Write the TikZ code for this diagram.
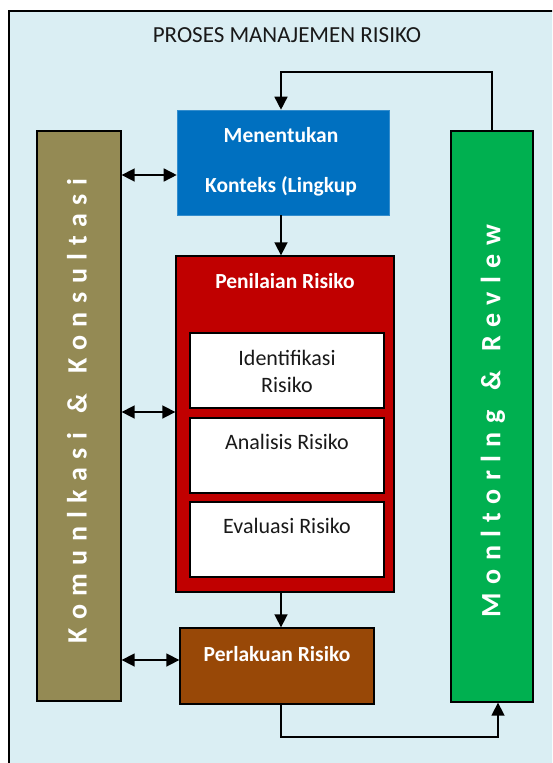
\documentclass[tikz,border=0pt]{standalone}
\usepackage{fontspec}
\setmainfont{Carlito}
\usetikzlibrary{arrows.meta}
\definecolor{bgblue}{HTML}{DAEEF3}
\definecolor{ctxblue}{HTML}{0070C0}
\definecolor{penred}{HTML}{C00000}
\definecolor{perlbrown}{HTML}{984807}
\definecolor{olive}{HTML}{948A54}
\definecolor{mongreen}{HTML}{00B050}
\tikzset{
  box/.style={draw=black, line width=1.3pt, minimum width=#1, inner sep=0pt},
  wtext/.style={text=white, font=\fontsize{21.5}{25}\selectfont\bfseries, inner sep=0pt},
  btext/.style={text=black!90, font=\fontsize{22}{27}\selectfont, inner sep=0pt, align=center},
  vtext/.style={text=white, rotate=90, inner sep=0pt, font=\fontsize{28}{30}\selectfont\bfseries\addfontfeature{LetterSpace=30}},
  arr/.style={line width=1.6pt, -{Triangle[length=13pt,width=13pt]}},
  darr/.style={line width=1.6pt, {Triangle[length=13pt,width=13pt]}-{Triangle[length=13pt,width=13pt]}},
}
\begin{document}
\begin{tikzpicture}[x=1pt,y=-1pt]
\useasboundingbox (0,0) rectangle (552,763);
\clip (0,0) rectangle (552,763);
\draw[line width=1.3pt, fill=bgblue] (9,11) rectangle (580,800);
\node[inner sep=0pt, font=\fontsize{23}{27}\selectfont, text=black!90] (title) at (287,35) {PROSES MANAJEMEN RISIKO};
% columns
\node[box=84pt, minimum height=570pt, fill=olive] (left) at (79,416) {};
\node[vtext] (lefttxt) at (77,411) {Komunlkasi\hspace{5pt} \& \hspace{5pt}Konsultasi};
\node[box=82pt, minimum height=571pt, fill=mongreen] (right) at (492,416.5) {};
\node[vtext] (righttxt) at (493,421) {Monltorlng\hspace{5pt} \& \hspace{5pt}Revlew};
% context box
\node[draw=ctxblue!80!white, line width=0.6pt, fill=ctxblue, minimum width=212pt, minimum height=105pt, inner sep=0pt] (ctx) at (283,162.5) {};
\node[wtext] (ctxa) at (281,135) {Menentukan};
\node[wtext] (ctxb) at (281,186) {Konteks (Lingkup};
% assessment
\node[box=218pt, minimum height=336pt, fill=penred] (pen) at (285,424) {};
\node[wtext] (pentxt) at (285,281) {Penilaian Risiko};
\node[box=194pt, minimum height=75pt, fill=white] (id) at (287,370.5) {};
\node[btext] (idtxt) at (287,371) {Identifikasi\\Risiko};
\node[box=194pt, minimum height=75pt, fill=white] (an) at (287,455.5) {};
\node[btext] (antxt) at (287,442) {Analisis Risiko};
\node[box=194pt, minimum height=75pt, fill=white] (ev) at (287,539.5) {};
\node[btext] (evtxt) at (287,526) {Evaluasi Risiko};
% treatment
\node[box=194pt, minimum height=76pt, fill=perlbrown] (perl) at (277,666) {};
\node[wtext] (perltxt) at (277,654) {Perlakuan Risiko};
% helper coordinates
\coordinate (ax) at (281,0);
\coordinate (rx) at (498,0);
\coordinate (top) at (0,72);
\coordinate (bot) at (0,737);
\coordinate (y1) at (0,175);
\coordinate (y2) at (0,412);
\coordinate (y3) at (0,660);
% connectors
\draw[arr] (right.north) -- (right.north |- top) -| (ctx.north -| ax);
\draw[arr] (ctx.south -| ax) -- (pen.north -| ax);
\draw[arr] (pen.south -| ax) -- (perl.north -| ax);
\draw[arr] (perl.south -| ax) |- (rx |- bot) -- (right.south -| rx);
\draw[darr] (left.east |- y1) -- (ctx.west |- y1);
\draw[darr] (left.east |- y2) -- (pen.west |- y2);
\draw[darr] (left.east |- y3) -- (perl.west |- y3);
\end{tikzpicture}
\end{document}
